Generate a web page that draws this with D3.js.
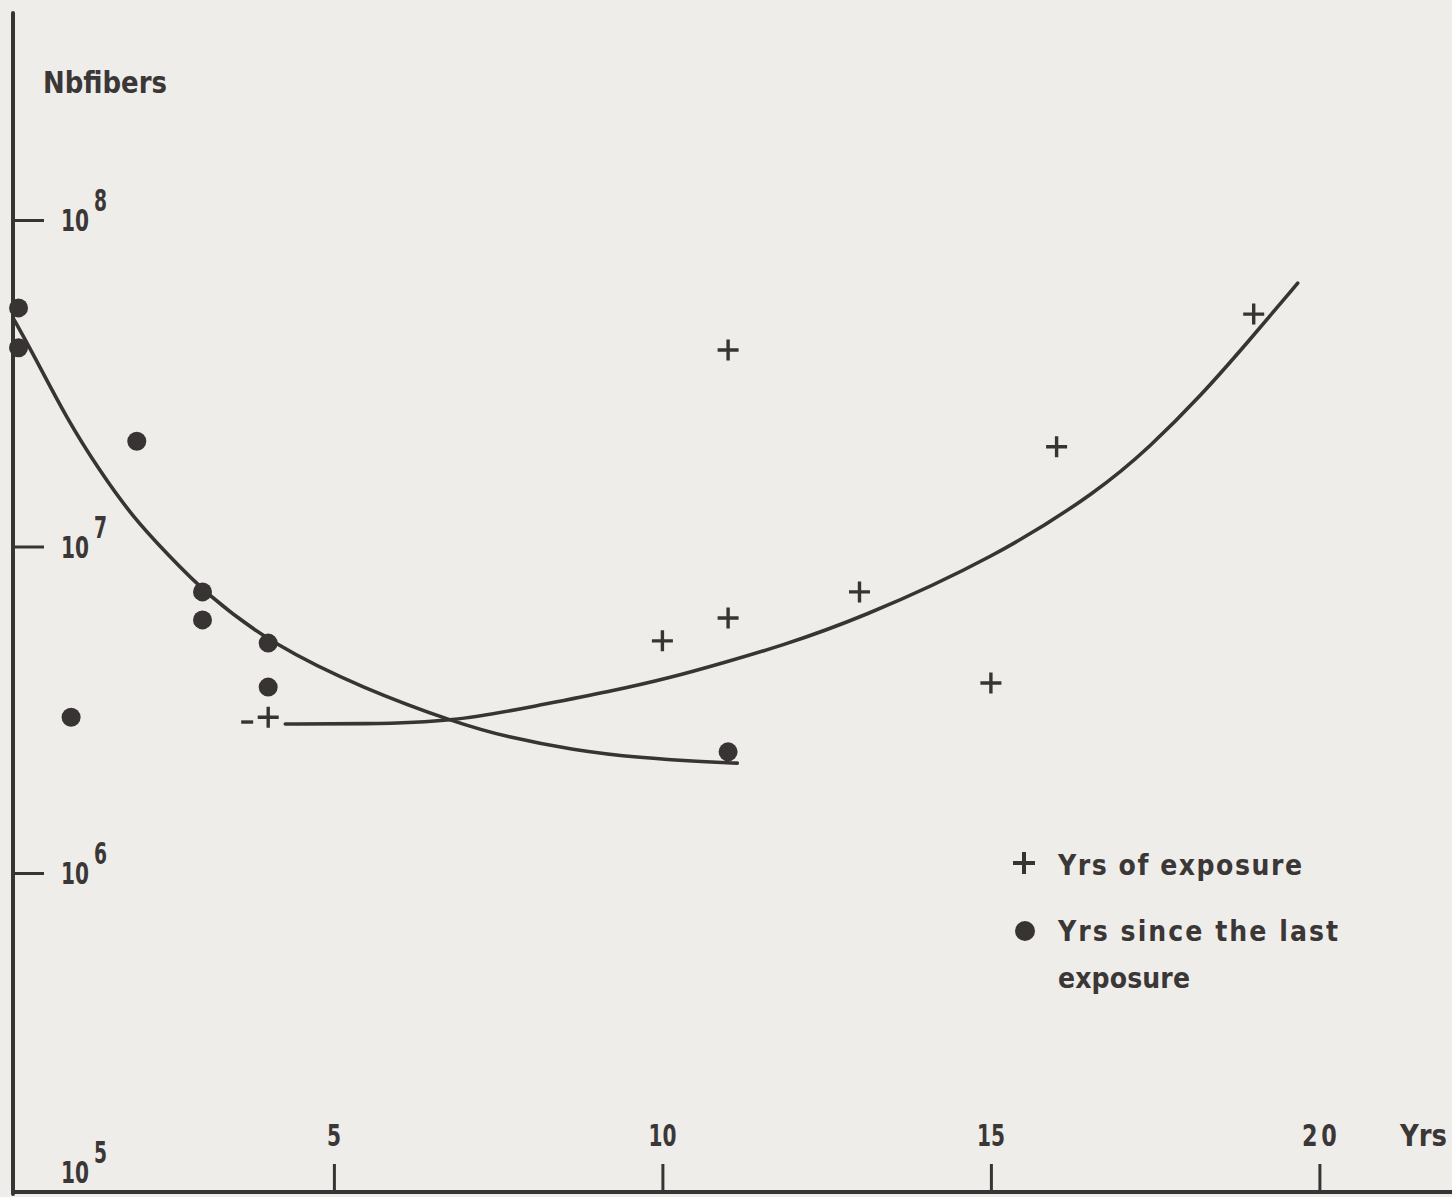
<!DOCTYPE html>
<html><head><meta charset="utf-8">
<script src="https://cdn.jsdelivr.net/npm/d3@7"></script>
<style>
html,body{margin:0;padding:0;background:#efedea;}
svg{display:block;}
text{font-family:"Liberation Sans Narrow","DejaVu Sans Condensed","Roboto Condensed","Liberation Sans",sans-serif;font-weight:bold;font-stretch:condensed;fill:#3b3737;}
</style></head><body>
<svg id="c" width="1452" height="1197"></svg>
<script>
// ---- data ----
const xTicks = [5, 10, 15, 20];
const yTickExps = [8, 7, 6, 5];
const yTitle = "Nbfibers";
const xTitle = "Yrs";
const legendLabels = ["Yrs of exposure", "Yrs since the last", "exposure"];

// Yrs since the last exposure (dots)
const dotX = [0.2, 0.2, 1, 2, 3, 3, 4, 4, 11];
const dotY = [5.38e7, 4.06e7, 3.0e6, 2.1e7, 7.26e6, 5.96e6, 5.06e6, 3.71e6, 2.35e6];

// Yrs of exposure (crosses)
const crossX = [4, 10, 11, 11, 13, 15, 16, 19];
const crossY = [3.0e6, 5.14e6, 4.0e7, 6.04e6, 7.26e6, 3.82e6, 2.02e7, 5.15e7];

// small dash drawn before the cross at 4 yrs
const dashX = [3.68];
const dashY = [2.9e6];

// fitted curve through the dots
const decayX = [0.12, 0.42, 0.94, 1.44, 1.94, 2.46, 3.07, 4.07, 5.45, 6.87, 7.63, 8.64, 9.66, 10.68, 11.14];
const decayY = [5.0e7, 3.9e7, 2.45e7, 1.7e7, 1.23e7, 9.5e6, 7.1e6, 5.0e6, 3.67e6, 2.88e6, 2.61e6, 2.38e6, 2.25e6, 2.19e6, 2.17e6];

// fitted curve through the crosses
const growX = [4.26, 5.44, 6.81, 8.14, 9.16, 10.16, 10.92, 11.79, 12.96, 15.08, 16.66, 17.42, 18.18, 18.94, 19.67];
const growY = [2.86e6, 2.86e6, 2.90e6, 3.27e6, 3.58e6, 3.98e6, 4.40e6, 4.95e6, 5.96e6, 9.29e6, 1.49e7, 2.02e7, 2.87e7, 4.29e7, 6.41e7];

// ---- drawing ----
const ink = "#393434";
const svg = d3.select("#c");
svg.append("rect").attr("width", 1452).attr("height", 1197).attr("fill", "#efedea");

const x = d3.scaleLinear().domain([0, 20]).range([5.4, 1319.4]);
const y = d3.scaleLog().domain([1e5, 1e8]).range([1199.5, 220]);
const axisX = 13, axisY = 1192;

// text squeezed horizontally to a given width (condensed face look)
function condensed(x0, y0, str, size, w) {
  const t = svg.append("text").attr("font-size", size).text(str);
  const nat = t.node().getComputedTextLength();
  const s = Math.min(1, w / nat);
  t.attr("transform", `translate(${x0},${y0}) scale(${s},1)`);
  return t;
}

// y axis
const gy = svg.append("g").attr("transform", `translate(${axisX},0)`)
  .call(d3.axisRight(y).tickValues(yTickExps.map(e => Math.pow(10, e)).filter(v => v > 1e5)).tickSize(31).tickFormat(""));
gy.select(".domain").remove();
gy.selectAll("line").attr("stroke", ink).attr("stroke-width", 3);
svg.append("line").attr("x1", axisX).attr("x2", axisX).attr("y1", 13).attr("y2", axisY + 2)
  .attr("stroke", ink).attr("stroke-width", 4).attr("stroke-linecap", "round");

yTickExps.forEach(e => {
  const v = Math.pow(10, e);
  const base = Math.min(y(v) + 11, axisY - 9);
  condensed(61, base, "10", 30, 28);
  condensed(94, base - 20, String(e), 30, 13);
});

condensed(43, 93, yTitle, 31, 124);

// x axis
const gx = svg.append("g").attr("transform", `translate(0,${axisY})`)
  .call(d3.axisBottom(x).tickValues(xTicks).tickSize(-28).tickFormat(""));
gx.select(".domain").remove();
gx.selectAll("line").attr("stroke", ink).attr("stroke-width", 3);
svg.append("line").attr("x1", axisX - 2).attr("x2", 1452).attr("y1", axisY).attr("y2", axisY)
  .attr("stroke", ink).attr("stroke-width", 4);

xTicks.forEach(v => {
  const s = String(v);
  const w = s.length === 1 ? 14 : (v === 20 ? 35 : 28);
  if (v === 20) {
    svg.append("text").attr("x", x(v) - w / 2).attr("y", 1146).attr("font-size", 31)
      .attr("letter-spacing", 0).attr("textLength", w).attr("lengthAdjust", "spacing")
      .attr("transform", `translate(${x(v) - w / 2},1146) scale(0.8,1) translate(${-(x(v) - w / 2)},-1146)`)
      .attr("textLength", w / 0.8).text(s);
  } else {
    condensed(x(v) - w / 2, 1146, s, 31, w);
  }
});
condensed(1400, 1146, xTitle, 31, 47);

// curves
const line = d3.line().x(d => x(d[0])).y(d => y(d[1])).curve(d3.curveBasis);
[[decayX, decayY], [growX, growY]].forEach(([xs, ys]) => {
  svg.append("path").attr("d", line(xs.map((v, i) => [v, ys[i]])))
    .attr("fill", "none").attr("stroke", ink).attr("stroke-width", 3.6).attr("stroke-linecap", "round");
});

// dots
svg.append("g").selectAll("circle").data(dotX.map((v, i) => [v, dotY[i]])).join("circle")
  .attr("cx", d => x(d[0])).attr("cy", d => y(d[1])).attr("r", 9.5).attr("fill", ink);

// crosses
const crossPath = (cx, cy, s) => `M${cx - s},${cy}H${cx + s}M${cx},${cy - s}V${cy + s}`;
svg.append("g").selectAll("path").data(crossX.map((v, i) => [v, crossY[i]])).join("path")
  .attr("d", d => crossPath(x(d[0]), y(d[1]), 10.5))
  .attr("stroke", ink).attr("stroke-width", 3.4).attr("fill", "none");

// dash
svg.append("g").selectAll("line").data(dashX.map((v, i) => [v, dashY[i]])).join("line")
  .attr("x1", d => x(d[0]) - 6).attr("x2", d => x(d[0]) + 6)
  .attr("y1", d => y(d[1])).attr("y2", d => y(d[1]))
  .attr("stroke", ink).attr("stroke-width", 3.4);

// legend
const lg = svg.append("g");
lg.append("path").attr("d", crossPath(1024, 863, 11)).attr("stroke", ink).attr("stroke-width", 4).attr("fill", "none");
lg.append("circle").attr("cx", 1025).attr("cy", 931).attr("r", 10).attr("fill", ink);
const legendPos = [[1058, 875, 244], [1058, 941, 280], [1058, 988, 132]];
legendLabels.forEach((s, i) => {
  lg.append("text").attr("x", legendPos[i][0]).attr("y", legendPos[i][1]).attr("font-size", 28)
    .attr("textLength", legendPos[i][2]).attr("lengthAdjust", "spacing").text(s);
});
</script>
</body></html>
